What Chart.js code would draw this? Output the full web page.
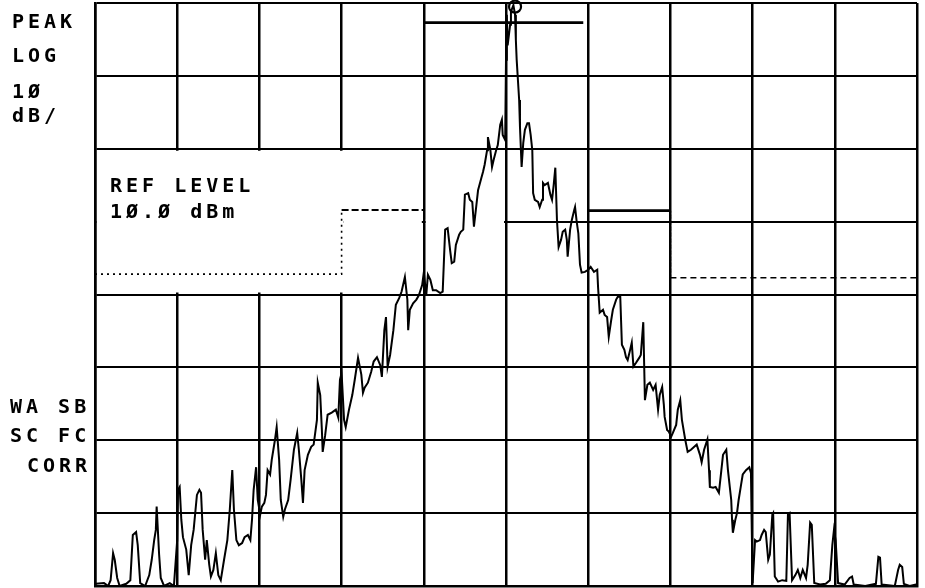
<!DOCTYPE html>
<html><head><meta charset="utf-8">
<script src="https://cdn.jsdelivr.net/npm/chart.js@4/dist/chart.umd.min.js"></script>
<style>
html,body{margin:0;padding:0;background:#fff;}
#wrap{position:relative;width:925px;height:588px;overflow:hidden;background:#fff;}
#c{position:absolute;left:0;top:0;}
.lbl{position:absolute;font-family:"DejaVu Sans Mono",monospace;font-weight:bold;font-size:20px;line-height:20px;letter-spacing:4px;color:#000;white-space:pre;}
</style></head>
<body><div id="wrap"><canvas id="c" width="925" height="588"></canvas>
<div class="lbl" style="left:12px;top:11px">PEAK</div>
<div class="lbl" style="left:12px;top:45px">LOG</div>
<div class="lbl" style="left:12px;top:81px">1Ø</div>
<div class="lbl" style="left:12px;top:105px">dB/</div>
<div class="lbl" style="left:110px;top:175px">REF LEVEL</div>
<div class="lbl" style="left:110px;top:201px">1Ø.Ø dBm</div>
<div class="lbl" style="left:10px;top:396px">WA SB</div>
<div class="lbl" style="left:10px;top:425px">SC FC</div>
<div class="lbl" style="left:27px;top:455px">CORR</div>
</div>
<script>
// frequency in screen divisions (0..10), level in dBm (ref 10 dBm, 10 dB/div)
const traceFreq = [
0.01,0.11,0.16,0.19,0.22,0.24,0.27,0.30,0.38,0.43,
0.46,0.50,0.52,0.55,0.61,0.66,0.69,0.72,0.74,0.75,
0.78,0.80,0.84,0.91,0.96,1.00,1.01,1.03,1.05,1.07,
1.11,1.14,1.17,1.20,1.24,1.27,1.29,1.31,1.34,1.36,
1.39,1.41,1.44,1.47,1.50,1.53,1.57,1.61,1.64,1.67,
1.69,1.72,1.75,1.79,1.82,1.86,1.89,1.91,1.93,1.96,
1.98,2.01,2.03,2.06,2.08,2.10,2.13,2.15,2.19,2.21,
2.24,2.26,2.29,2.31,2.35,2.38,2.42,2.46,2.48,2.51,
2.53,2.55,2.59,2.63,2.66,2.70,2.71,2.74,2.76,2.77,
2.80,2.83,2.88,2.93,2.96,2.98,3.00,3.03,3.05,3.09,
3.13,3.16,3.20,3.24,3.26,3.28,3.32,3.36,3.39,3.43,
3.47,3.49,3.52,3.54,3.56,3.59,3.63,3.66,3.70,3.73,
3.77,3.80,3.81,3.83,3.87,3.91,3.94,3.98,4.00,4.03,
4.05,4.08,4.11,4.15,4.20,4.23,4.26,4.29,4.32,4.34,
4.37,4.39,4.43,4.45,4.48,4.50,4.54,4.56,4.59,4.61,
4.64,4.66,4.70,4.72,4.74,4.77,4.78,4.81,4.83,4.85,
4.88,4.90,4.93,4.95,4.96,4.99,5.00,5.01,5.02,5.05,
5.06,5.09,5.11,5.12,5.13,5.16,5.17,5.19,5.21,5.23,
5.26,5.28,5.30,5.32,5.33,5.35,5.39,5.41,5.44,5.45,
5.47,5.51,5.54,5.56,5.58,5.60,5.62,5.64,5.67,5.69,
5.72,5.74,5.75,5.78,5.80,5.83,5.84,5.86,5.88,5.90,
5.92,5.96,6.00,6.03,6.07,6.11,6.12,6.14,6.18,6.20,
6.23,6.25,6.28,6.30,6.34,6.36,6.39,6.41,6.44,6.46,
6.48,6.51,6.53,6.55,6.58,6.62,6.64,6.67,6.69,6.72,
6.75,6.79,6.82,6.85,6.87,6.90,6.92,6.93,6.96,6.98,
7.01,7.03,7.07,7.09,7.12,7.14,7.18,7.21,7.25,7.29,
7.32,7.36,7.38,7.41,7.45,7.47,7.48,7.52,7.55,7.59,
7.62,7.64,7.68,7.70,7.74,7.75,7.76,7.79,7.81,7.83,
7.86,7.88,7.92,7.96,7.98,7.99,8.00,8.03,8.05,8.09,
8.11,8.14,8.16,8.19,8.21,8.24,8.25,8.27,8.31,8.36,
8.41,8.43,8.45,8.48,8.52,8.55,8.58,8.61,8.65,8.67,
8.70,8.72,8.75,8.82,8.89,8.94,8.97,8.99,9.01,9.04,
9.12,9.18,9.21,9.23,9.37,9.50,9.53,9.55,9.57,9.73,
9.77,9.79,9.82,9.84,9.91,9.99
];
const traceLevel = [
-69.7,-69.6,-70.0,-69.2,-65.5,-66.4,-68.9,-70.0,-69.7,-69.2,
-63.0,-62.6,-64.4,-69.6,-70.0,-68.5,-66.4,-63.7,-62.3,-59.1,
-65.7,-68.9,-70.0,-69.6,-70.0,-63.7,-56.8,-56.4,-60.9,-63.3,
-65.0,-68.5,-64.4,-62.3,-57.5,-56.8,-57.2,-62.3,-66.4,-63.7,
-67.1,-68.7,-67.8,-65.5,-68.5,-69.2,-66.4,-63.7,-59.5,-54.1,
-59.5,-63.7,-64.4,-64.1,-63.3,-63.0,-63.7,-60.9,-56.8,-53.7,
-58.2,-60.2,-59.1,-58.6,-57.5,-54.1,-54.7,-52.7,-49.9,-48.2,
-52.7,-58.2,-60.5,-59.5,-58.2,-55.4,-51.3,-49.0,-51.3,-55.4,
-58.6,-54.1,-52.0,-50.9,-50.6,-47.2,-42.1,-43.8,-48.6,-51.6,
-49.3,-46.5,-46.2,-45.8,-46.9,-41.7,-40.8,-47.2,-48.2,-45.8,
-43.8,-41.7,-38.7,-41.0,-43.5,-42.8,-42.1,-40.6,-39.2,-38.6,
-39.7,-41.3,-34.9,-33.1,-39.9,-38.3,-34.9,-31.4,-30.5,-29.6,
-27.6,-30.7,-34.9,-32.1,-31.2,-30.7,-30.1,-28.7,-27.0,-30.1,
-27.3,-28.0,-29.4,-29.4,-29.8,-29.6,-21.1,-20.9,-23.9,-25.7,
-25.5,-23.2,-21.8,-21.4,-21.1,-16.3,-16.1,-17.0,-17.3,-20.7,
-17.7,-15.7,-14.0,-13.2,-12.2,-10.2,-8.4,-10.2,-12.5,-11.5,
-10.2,-9.5,-6.7,-6.0,-8.1,-8.8,2.2,8.4,4.2,7.0,
8.8,9.7,8.4,4.9,2.2,-3.3,-7.0,-12.5,-9.2,-7.4,
-6.5,-6.5,-8.1,-10.2,-16.1,-17.0,-17.3,-18.0,-17.0,-14.7,
-15.0,-14.7,-16.3,-17.0,-15.0,-12.6,-19.8,-23.5,-22.5,-21.4,
-21.1,-22.5,-24.8,-21.1,-19.8,-18.4,-18.0,-20.0,-21.6,-25.9,
-27.0,-26.9,-26.6,-26.2,-26.9,-26.6,-29.0,-32.5,-32.1,-32.8,
-33.1,-35.8,-33.5,-32.1,-30.7,-30.3,-30.3,-36.9,-37.6,-38.6,
-39.0,-37.6,-36.6,-39.9,-39.4,-38.7,-38.3,-33.8,-44.5,-42.4,
-42.1,-43.1,-42.4,-45.8,-43.8,-42.7,-45.1,-46.8,-48.6,-48.8,
-49.5,-49.0,-47.9,-45.8,-44.5,-47.2,-49.9,-51.6,-51.3,-50.9,
-50.6,-52.0,-53.0,-51.3,-49.9,-54.1,-56.4,-56.5,-56.4,-57.2,
-54.1,-52.0,-51.3,-54.1,-58.2,-60.9,-62.7,-60.9,-60.0,-58.2,
-56.1,-54.7,-54.1,-53.7,-54.5,-62.3,-69.6,-63.7,-63.9,-63.7,
-63.0,-62.3,-62.6,-66.4,-65.7,-60.2,-60.0,-68.7,-69.4,-69.2,
-69.3,-60.2,-60.0,-69.2,-68.5,-67.8,-68.9,-67.8,-68.9,-67.1,
-61.3,-61.6,-69.6,-69.8,-69.7,-69.2,-64.4,-62.3,-63.7,-69.6,
-69.8,-68.9,-68.7,-69.8,-70.0,-69.7,-66.0,-66.1,-69.8,-70.0,
-67.8,-67.1,-67.4,-69.7,-70.0,-69.8
];
// limit mask (left half and right half)
const maskLeftFreq  = [0, 3, 3, 4, 4, 5.94];
const maskLeftLevel = [-27.2, -27.2, -18.4, -18.4, 7.3, 7.3];
const maskRightFreq  = [6, 7, 7, 10];
const maskRightLevel = [-18.5, -18.5, -27.7, -27.7];
// marker at peak
const markerFreq = [5.11];
const markerLevel = [9.5];
// graticule
const refLevel = 10, dbPerDiv = 10, vDivs = 8, hDivs = 10;

const pts = (xs, ys) => xs.map((v, i) => ({x: v, y: ys[i]}));
const leftDash  = [[2,4],[2,4],[7,3],[2,4],[]];
const leftWidth = [1.6,1.6,2,1.6,2.8];
const rightDash = [[], [2,4], [6,4]];
const rightWidth = [2.8,1.6,1.6];

const blankPlugin = {
  id: 'blank',
  beforeDatasetsDraw(chart) {
    const {ctx, scales: {x, y}} = chart;
    const x0 = x.getPixelForValue(0), x3 = x.getPixelForValue(3),
          x4 = x.getPixelForValue(4), x5 = x.getPixelForValue(5);
    const yA = y.getPixelForValue(-10), yB = y.getPixelForValue(-30), yM = y.getPixelForValue(-20);
    ctx.save();
    ctx.fillStyle = '#fff';
    ctx.fillRect(x0 + 2, yA + 2, (x3 + 2) - (x0 + 2), (yB - 2) - (yA + 2));
    ctx.fillRect(x3 + 2, yM - 2, (x4 - 2) - (x3 + 2), 4);
    ctx.fillRect(x4 + 2, yM - 2, (x5 - 2) - (x4 + 2), 4);
    ctx.restore();
  }
};

new Chart(document.getElementById('c'), {
  type: 'line',
  data: {
    datasets: [
      {
        data: pts(traceFreq, traceLevel),
        borderColor: '#000', borderWidth: 2, pointRadius: 0, tension: 0, fill: false
      },
      {
        data: pts(maskLeftFreq, maskLeftLevel),
        borderColor: '#000', borderWidth: 2, pointRadius: 0, tension: 0, fill: false,
        segment: {
          borderDash: c => leftDash[c.p0DataIndex],
          borderWidth: c => leftWidth[c.p0DataIndex]
        }
      },
      {
        data: pts(maskRightFreq, maskRightLevel),
        borderColor: '#000', borderWidth: 2, pointRadius: 0, tension: 0, fill: false,
        segment: {
          borderDash: c => rightDash[c.p0DataIndex],
          borderWidth: c => rightWidth[c.p0DataIndex]
        }
      },
      {
        data: pts(markerFreq, markerLevel),
        showLine: false, pointStyle: 'circle', pointRadius: 6,
        pointBorderWidth: 2.2, pointBorderColor: '#000', pointBackgroundColor: 'rgba(255,255,255,0)',
        clip: false
      }
    ]
  },
  options: {
    responsive: false, animation: false, devicePixelRatio: 1,
    layout: {autoPadding: false, padding: {left: 95, right: 8, top: 3, bottom: 2}},
    plugins: {legend: {display: false}, tooltip: {enabled: false}},
    scales: {
      x: {
        type: 'linear', min: 0, max: hDivs,
        ticks: {display: false, stepSize: 1, padding: 0},
        grid: {color: '#000', lineWidth: 2.5, drawTicks: false, tickLength: 0},
        border: {display: true, color: '#000', width: 2.5},
        afterFit: s => { s.height = 0; }
      },
      y: {
        type: 'linear', min: refLevel - vDivs * dbPerDiv, max: refLevel,
        ticks: {display: false, stepSize: dbPerDiv, padding: 0},
        grid: {color: '#000', lineWidth: 2, drawTicks: false, tickLength: 0},
        border: {display: true, color: '#000', width: 2.5},
        afterFit: s => { s.width = 0; }
      }
    }
  },
  plugins: [blankPlugin]
});
</script>
</body></html>
